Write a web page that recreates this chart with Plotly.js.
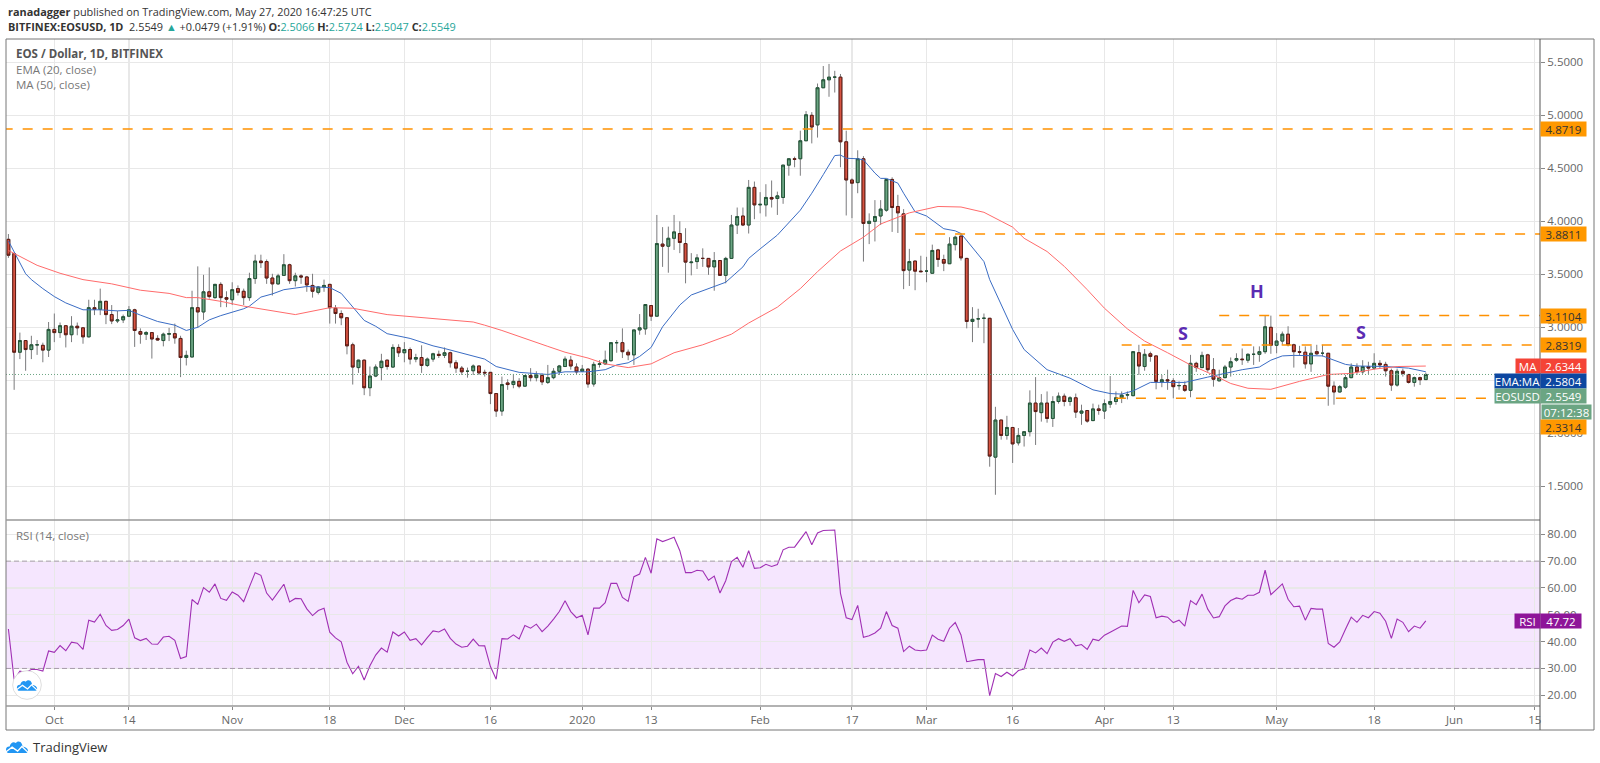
<!DOCTYPE html>
<html>
<head>
<meta charset="utf-8">
<script src="https://cdn.plot.ly/plotly-3.0.1.min.js"></script>
<style>body{margin:0;background:#fff}#plotter{width:1600px;height:763px}</style>
</head>
<body>
<div id="plotter"></div>
<script>
//daily candles, first one is 2019-09-23
const firstDay = '2019-09-23';
const opens = [
3.83,3.695,2.765,2.875,2.79,2.835,2.83,2.785,2.98,2.95,
3.015,2.93,3.01,2.995,2.91,3.185,3.17,3.245,3.12,3.06,
3.07,3.105,3.165,2.96,2.935,2.95,2.895,2.875,2.935,2.94,
2.895,2.715,2.72,3.185,3.145,3.335,3.28,3.405,3.28,3.26,
3.365,3.34,3.28,3.46,3.625,3.62,3.465,3.41,3.49,3.59,
3.44,3.485,3.475,3.395,3.33,3.38,3.405,3.18,3.13,3.09,
2.835,2.62,2.69,2.43,2.54,2.62,2.69,2.625,2.81,2.76,
2.79,2.70,2.715,2.64,2.70,2.745,2.735,2.76,2.665,2.615,
2.585,2.59,2.635,2.575,2.575,2.375,2.21,2.475,2.46,2.49,
2.445,2.545,2.525,2.545,2.48,2.525,2.585,2.63,2.69,2.625,
2.585,2.605,2.465,2.65,2.655,2.685,2.855,2.855,2.765,2.74,
2.975,2.985,3.205,3.105,3.785,3.765,3.84,3.885,3.79,3.61,
3.62,3.65,3.65,3.57,3.63,3.49,3.65,3.965,4.05,3.965,
4.32,4.155,4.155,4.225,4.215,4.225,4.53,4.59,4.59,4.76,
5.0,4.91,5.26,5.335,5.36,5.36,4.75,4.39,4.365,4.59,
3.98,4.0,4.05,4.105,4.395,4.14,4.07,3.54,3.625,3.53,
3.53,3.51,3.73,3.64,3.60,3.78,3.86,3.65,3.055,3.08,
3.085,3.085,1.775,2.125,1.98,2.055,1.91,1.98,2.015,2.285,
2.195,2.285,2.14,2.30,2.35,2.30,2.335,2.19,2.215,2.12,
2.23,2.21,2.275,2.30,2.335,2.36,2.355,2.76,2.63,2.75,
2.73,2.485,2.505,2.495,2.45,2.45,2.405,2.66,2.62,2.74,
2.60,2.495,2.525,2.625,2.69,2.70,2.69,2.745,2.745,2.77,
3.0,2.83,2.87,2.935,2.835,2.77,2.765,2.655,2.77,2.755,
2.755,2.445,2.39,2.435,2.525,2.625,2.58,2.63,2.615,2.66,
2.65,2.59,2.455,2.585,2.555,2.48,2.525,2.5066];
const closes = [
3.68,2.765,2.875,2.79,2.835,2.835,2.785,2.98,2.95,3.015,
2.93,3.01,2.995,2.91,3.185,3.17,3.245,3.12,3.06,3.07,
3.10,3.165,2.97,2.935,2.95,2.89,2.88,2.935,2.94,2.90,
2.715,2.735,3.185,3.145,3.335,3.29,3.405,3.28,3.265,3.355,
3.33,3.28,3.46,3.625,3.61,3.465,3.41,3.485,3.59,3.44,
3.485,3.475,3.40,3.34,3.38,3.395,3.185,3.13,3.09,2.825,
2.625,2.69,2.43,2.54,2.625,2.68,2.63,2.81,2.76,2.79,
2.70,2.715,2.64,2.70,2.75,2.735,2.76,2.665,2.615,2.58,
2.585,2.635,2.57,2.57,2.375,2.21,2.46,2.46,2.49,2.445,
2.545,2.525,2.55,2.485,2.525,2.585,2.635,2.70,2.635,2.58,
2.605,2.465,2.65,2.655,2.69,2.855,2.855,2.77,2.74,2.975,
2.995,3.215,3.105,3.79,3.765,3.84,3.90,3.80,3.615,3.615,
3.655,3.65,3.57,3.63,3.49,3.65,3.965,4.045,3.965,4.32,
4.155,4.16,4.225,4.21,4.24,4.53,4.59,4.585,4.76,5.005,
4.89,5.26,5.335,5.36,5.36,4.75,4.39,4.36,4.59,3.98,
4.0,4.045,4.115,4.395,4.13,4.08,3.535,3.62,3.53,3.525,
3.53,3.725,3.64,3.605,3.785,3.85,3.655,3.055,3.075,3.08,
3.085,1.785,2.125,1.98,2.055,1.90,1.98,2.015,2.285,2.205,
2.285,2.14,2.30,2.35,2.30,2.335,2.20,2.21,2.115,2.23,
2.215,2.28,2.30,2.335,2.36,2.365,2.77,2.635,2.745,2.725,
2.49,2.505,2.495,2.44,2.45,2.405,2.66,2.62,2.735,2.60,
2.51,2.525,2.625,2.675,2.705,2.695,2.745,2.745,2.77,3.005,
2.83,2.87,2.935,2.835,2.77,2.765,2.655,2.755,2.75,2.755,
2.445,2.39,2.44,2.525,2.625,2.58,2.63,2.615,2.66,2.645,
2.59,2.455,2.585,2.565,2.48,2.525,2.505,2.5549];
const highs = [
3.88,3.70,2.95,2.88,2.92,2.88,2.855,3.05,3.13,3.045,
3.02,3.105,3.045,3.0,3.26,3.26,3.365,3.25,3.21,3.155,
3.12,3.20,3.175,2.99,2.965,2.95,2.925,2.95,2.995,3.035,
2.92,2.78,3.345,3.575,3.495,3.565,3.41,3.425,3.34,3.425,
3.395,3.365,3.515,3.685,3.685,3.64,3.505,3.505,3.69,3.60,
3.515,3.50,3.485,3.505,3.39,3.45,3.41,3.21,3.16,3.09,
2.855,2.695,2.695,2.63,2.65,2.75,2.695,2.84,2.84,2.86,
2.81,2.75,2.83,2.715,2.76,2.78,2.81,2.77,2.69,2.635,
2.62,2.65,2.635,2.60,2.575,2.38,2.535,2.51,2.56,2.52,
2.55,2.615,2.585,2.565,2.645,2.615,2.645,2.725,2.73,2.66,
2.645,2.615,2.675,2.69,2.78,2.855,2.88,2.99,2.79,2.975,
3.125,3.215,3.21,4.06,3.945,3.95,4.06,4.0,3.935,3.70,
3.69,3.745,3.65,3.71,3.63,3.665,4.06,4.13,4.13,4.39,
4.375,4.275,4.35,4.385,4.28,4.53,4.595,4.61,4.855,5.04,
5.03,5.30,5.465,5.485,5.42,5.39,4.855,4.405,4.67,4.615,
4.075,4.2,4.2,4.395,4.415,4.25,4.115,3.74,3.625,3.675,
3.665,3.78,3.74,3.685,3.85,3.865,3.89,3.655,3.19,3.175,
3.13,3.085,2.25,2.125,2.165,2.055,2.05,2.015,2.405,2.53,
2.37,2.395,2.35,2.385,2.375,2.35,2.375,2.27,2.22,2.28,
2.27,2.32,2.54,2.395,2.395,2.395,2.775,2.835,2.795,2.77,
2.73,2.55,2.60,2.52,2.49,2.49,2.74,2.675,2.77,2.75,
2.71,2.60,2.645,2.715,2.755,2.80,2.755,2.82,2.82,3.11,
3.11,2.945,2.96,3.01,2.845,2.825,2.82,2.825,2.835,2.835,
2.755,2.49,2.455,2.55,2.66,2.66,2.69,2.675,2.755,2.69,
2.675,2.61,2.61,2.61,2.56,2.535,2.535,2.5724];
const lows = [
3.655,2.41,2.70,2.59,2.70,2.74,2.67,2.72,2.86,2.90,
2.81,2.86,2.925,2.845,2.905,3.115,3.115,3.03,3.03,3.04,
3.04,3.10,2.815,2.845,2.88,2.705,2.875,2.82,2.87,2.845,
2.53,2.64,2.72,2.995,3.07,3.27,3.27,3.19,3.19,3.21,
3.30,3.21,3.25,3.41,3.56,3.41,3.30,3.40,3.49,3.41,
3.385,3.41,3.335,3.28,3.31,3.335,3.035,3.035,3.02,2.745,
2.46,2.57,2.36,2.35,2.53,2.50,2.60,2.62,2.72,2.67,
2.65,2.67,2.57,2.625,2.675,2.71,2.71,2.62,2.57,2.55,
2.525,2.55,2.55,2.535,2.275,2.155,2.165,2.41,2.425,2.425,
2.44,2.49,2.49,2.455,2.465,2.51,2.55,2.63,2.60,2.55,
2.58,2.43,2.44,2.62,2.645,2.675,2.76,2.71,2.69,2.645,
2.93,2.93,3.06,3.105,3.57,3.515,3.73,3.70,3.415,3.49,
3.55,3.57,3.495,3.345,3.485,3.415,3.645,3.88,3.955,3.885,
4.02,4.075,4.045,4.13,4.06,4.165,4.43,4.51,4.43,4.76,
4.735,4.79,5.26,5.175,5.215,4.51,4.055,4.03,4.265,3.62,
3.785,3.81,3.965,4.09,3.90,3.89,3.36,3.39,3.35,3.52,
3.425,3.51,3.57,3.53,3.60,3.725,3.63,2.99,2.86,2.995,
2.85,1.685,1.42,1.94,1.94,1.72,1.885,1.875,1.97,1.89,
2.11,2.10,2.06,2.28,2.255,2.26,2.145,2.08,2.10,2.115,
2.175,2.135,2.24,2.27,2.285,2.32,2.35,2.55,2.59,2.675,
2.415,2.435,2.41,2.33,2.41,2.39,2.34,2.58,2.615,2.58,
2.44,2.49,2.52,2.535,2.675,2.645,2.665,2.645,2.675,2.75,
2.75,2.755,2.835,2.82,2.62,2.73,2.61,2.58,2.74,2.725,
2.26,2.27,2.385,2.42,2.52,2.55,2.56,2.56,2.60,2.615,
2.535,2.40,2.44,2.535,2.47,2.44,2.455,2.5047];

//rsi, one value per candle
const rsiValues = [
44.7,25.7,29,28.6,29.6,29.6,29,36.5,36,38.5,
36.6,39.8,39.4,37.1,48,47.3,50.2,46,44.2,44.5,
46,48.4,41.4,40.4,41.2,39.1,39,41.7,42,40.5,
33.7,34.4,55.7,53.9,60.1,58.4,61.5,56.1,55.4,58.5,
57.3,54.9,60.4,65.7,64.7,58.1,55.5,58.4,61.4,54.8,
56.1,56,52.2,49.7,51.6,52.4,43.5,41.4,39.9,32.3,
28,30.8,25.7,31,35,37.6,36.1,43.6,42.1,43.6,
40.5,41.1,38.8,41.5,44,43.6,44.7,41.2,39.1,37.9,
38.3,40.9,38.5,38.4,30.7,26,41.1,41,42.5,41,
46,45,46.5,43.7,45.8,48.4,51.2,55.2,51.2,48.9,
49.8,42.5,52.5,52.5,54.5,61.7,61.7,56.5,55,64.2,
65.2,71.4,65.5,78.3,77.3,78.1,78.9,73.9,65.7,65.7,
66.6,66.3,62.9,64.4,58.1,62.7,69.8,71.4,67.7,73.9,
67.3,67.5,68.8,68,68.7,74.2,75.2,75.2,77.9,81,
76.1,80.5,81.4,81.6,81.6,58,48.9,48.2,53.5,41.6,
42.2,43.2,45,51.2,46,45,36.3,38.3,36.9,36.6,
36.9,42.4,40.9,40.1,45,47.1,42.5,32.5,32.9,33.3,
33.3,19.9,28.1,27,28.6,27.2,29.2,29.8,36.9,35.8,
37.6,35.5,39.8,41.1,40.1,41.1,38.4,38.9,37.1,40.9,
40.4,42.4,43.5,44.7,45.8,45.7,59.1,54.5,57.4,56.8,
48.9,49.5,49.1,47.1,48,45.8,55.3,53.8,57.7,52.1,
48.8,49.3,53.3,55.3,56.3,55.8,57.3,57.3,58.4,66.6,
57.5,59.5,61.5,55.8,53,53.2,48,52.4,52.1,52.1,
39.3,37.9,39.9,44.6,49.1,47.2,49.8,48.9,51.2,50.6,
47.6,41.2,48.4,47.2,43.7,45.8,45,47.72];

//ema and ma read at the candle numbers where the line bends
const emaIdx = [0,1,2,3,4,6,8,10,13,16,19,21,23,26,29,31,33,35,37,41,42,44,46,48,52,56,58,60,62,64,66,70,74,76,80,83,85,89,94,97,101,104,106,108,110,112,114,117,119,123,125,128,129,131,134,138,140,142,144,145,146,148,149,151,152,153,155,156,158,160,163,165,166,170,171,175,177,181,185,189,192,194,196,199,201,205,209,215,218,220,222,224,229,231,233,235,240,244,247];
const emaVals = [3.815,3.71,3.60,3.505,3.45,3.365,3.29,3.23,3.165,3.165,3.155,3.16,3.115,3.055,3.02,2.97,3.0,3.07,3.11,3.175,3.20,3.285,3.315,3.355,3.385,3.375,3.32,3.19,3.065,3.01,2.94,2.895,2.825,2.80,2.74,2.70,2.63,2.575,2.555,2.58,2.58,2.60,2.645,2.665,2.725,2.81,3.005,3.21,3.305,3.39,3.425,3.57,3.65,3.74,3.87,4.105,4.265,4.44,4.62,4.625,4.595,4.59,4.58,4.455,4.405,4.405,4.36,4.265,4.09,4.05,3.93,3.91,3.885,3.62,3.45,2.98,2.79,2.60,2.52,2.41,2.375,2.37,2.40,2.48,2.48,2.48,2.53,2.60,2.625,2.69,2.73,2.735,2.73,2.69,2.65,2.635,2.63,2.615,2.5804];
const maIdx = [0,2,5,9,13,18,23,28,31,33,37,41,50,56,60,66,68,74,81,83,86,94,97,101,104,108,112,116,121,126,129,134,138,141,145,149,152,157,162,166,170,175,177,181,184,188,191,195,198,202,206,210,213,216,220,225,230,234,238,242,247];
const maVals = [3.725,3.67,3.585,3.51,3.45,3.41,3.35,3.32,3.28,3.28,3.245,3.20,3.12,3.185,3.18,3.12,3.11,3.08,3.05,3.02,2.97,2.82,2.765,2.71,2.655,2.62,2.655,2.76,2.835,2.935,3.04,3.19,3.365,3.525,3.72,3.85,3.975,4.08,4.14,4.135,4.085,3.945,3.84,3.715,3.575,3.355,3.18,2.985,2.87,2.76,2.645,2.55,2.47,2.425,2.415,2.49,2.555,2.565,2.605,2.63,2.6344];

//horizontal levels drawn on the chart
const levelVals = [4.8719,3.8811,3.1104,2.8319,2.3314];
const levelStarts = ['2019-09-22','2020-02-28','2020-04-21','2020-04-04','2020-04-03'];

const tickDates = ['2019-10-01','2019-10-14','2019-11-01','2019-11-18','2019-12-01','2019-12-16','2020-01-01','2020-01-13','2020-02-01','2020-02-17','2020-03-01','2020-03-16','2020-04-01','2020-04-13','2020-05-01','2020-05-18','2020-06-01','2020-06-15'];
const tickLabels = ['Oct','14','Nov','18','Dec','16','2020','13','Feb','17','Mar','16','Apr','13','May','18','Jun','15'];
const priceTicks = [1.5,2,2.5,3,3.5,4,4.5,5,5.5];
const rsiTicks = [20,30,40,50,60,70,80];

const patternLabels = ['S','H','S'];
const patternIdx = [205,218,236];
const patternVals = [2.946,3.343,2.96];

const font = '"Open Sans", sans-serif';
const plotLeft = 6, plotRight = 1540, plotTop = 39, plotBottom = 706, paneSplit = 520;
const rangeStart = '2019-09-22 13:55', rangeEnd = '2020-06-15 21:36';

//pixel position to paper position
function px(x){ return (x - plotLeft) / (plotRight - plotLeft); }
function py(y){ return (plotBottom - y) / (plotBottom - plotTop); }

let dates = [];
let d = new Date(firstDay + 'T00:00:00Z');
for(let i = 0; i < opens.length; i++){
    dates.push(d.toISOString().slice(0, 10));
    d.setUTCDate(d.getUTCDate() + 1);
}

//wicks are grey and the body border is dark, so two candle layers
let wickTrace = {
    type: 'candlestick', x: dates, open: opens, high: highs, low: lows, close: closes,
    xaxis: 'x', yaxis: 'y', whiskerwidth: 0,
    increasing: {line: {color: '#7b7b7d', width: 1}, fillcolor: '#6ba583'},
    decreasing: {line: {color: '#7b7b7d', width: 1}, fillcolor: '#d75442'},
};
let bodyTrace = {
    type: 'candlestick', x: dates, open: opens, close: closes,
    high: opens.map((o, i) => Math.max(o, closes[i])),
    low: opens.map((o, i) => Math.min(o, closes[i])),
    xaxis: 'x', yaxis: 'y', whiskerwidth: 0,
    increasing: {line: {color: '#225437', width: 1}, fillcolor: '#6ba583'},
    decreasing: {line: {color: '#5b1a13', width: 1}, fillcolor: '#d75442'},
};
let emaTrace = {
    type: 'scatter', mode: 'lines', x: emaIdx.map(i => dates[i]), y: emaVals,
    line: {color: '#3a6cc4', width: 1}, xaxis: 'x', yaxis: 'y',
};
let maTrace = {
    type: 'scatter', mode: 'lines', x: maIdx.map(i => dates[i]), y: maVals,
    line: {color: '#ff6b6b', width: 1}, xaxis: 'x', yaxis: 'y',
};
let lastClose = closes[closes.length - 1];
let lastLine = {
    type: 'scatter', mode: 'lines', x: [rangeStart, rangeEnd], y: [lastClose, lastClose],
    line: {color: '#6ba583', width: 1, dash: '1px,2px'}, xaxis: 'x', yaxis: 'y',
};
let levelTraces = levelVals.map((v, i) => ({
    type: 'scatter', mode: 'lines', x: [levelStarts[i], rangeEnd], y: [v, v],
    line: {color: '#ff9100', width: 1.5, dash: '10px,10px'}, xaxis: 'x', yaxis: 'y',
}));
let rsiTrace = {
    type: 'scatter', mode: 'lines', x: dates, y: rsiValues,
    line: {color: '#a030b4', width: 1.1}, xaxis: 'x', yaxis: 'y2',
};

//header and legend text
function text(str, x, y, size, color){
    return {xref: 'paper', yref: 'paper', x: px(x), y: py(y), xanchor: 'left', yanchor: 'middle',
        text: str, showarrow: false, align: 'left', font: {family: font, size: size, color: color}};
}
//coloured tag on the right hand scale
function tag(str, x0, x1, y, bg, color){
    return {xref: 'paper', yref: 'paper', x: px(x0), y: py(y), xanchor: 'left', yanchor: 'middle',
        width: x1 - x0, height: 14, text: str, showarrow: false, align: 'center', bgcolor: bg, borderpad: 0,
        font: {family: font, size: 11.5, color: color}};
}
const teal = '#26a69a';
function val(s){ return '<span style="color:' + teal + '">' + s + '</span>'; }

let annotations = [
    text('<b>ranadagger</b> published on TradingView.com, May 27, 2020 16:47:25 UTC', 6, 11, 10.9, '#333'),
    text('<b>BITFINEX:EOSUSD, 1D</b>  2.5549 ' + val('▲') + ' +0.0479 (+1.91%) <b>O:</b>' + val('2.5066') + ' <b>H:</b>' + val('2.5724') + ' <b>L:</b>' + val('2.5047') + ' <b>C:</b>' + val('2.5549'), 6, 27, 10.9, '#333'),
    text('<b>EOS / Dollar, 1D, BITFINEX</b>', 14, 54, 11.5, '#555'),
    text('EMA (20, close)', 14, 69.5, 11.5, '#777'),
    text('MA (50, close)', 14, 84.5, 11.5, '#777'),
    text('RSI (14, close)', 14, 535, 11.5, '#777'),
    text('TradingView', 31, 747, 13, '#333'),
    tag('4.8719', 1540, 1585, 128.9, '#ff9800', '#333'),
    tag('3.8811', 1540, 1585, 233.9, '#ff9800', '#333'),
    tag('3.1104', 1540, 1585, 315.6, '#ff9800', '#333'),
    tag('2.8319', 1540, 1585, 345, '#ff9800', '#333'),
    tag('MA', 1515, 1539, 366, '#f44336', '#fff'),
    tag('2.6344', 1540, 1585, 366, '#f44336', '#fff'),
    tag('EMA:MA', 1494, 1539, 381, '#0d47a1', '#fff'),
    tag('2.5804', 1540, 1585, 381, '#0d47a1', '#fff'),
    tag('EOSUSD', 1494, 1539, 396, '#6ba583', '#fff'),
    tag('2.5549', 1540, 1585, 396, '#6ba583', '#fff'),
    tag('07:12:38', 1541, 1590, 412, '#6ba583', '#fff'),
    tag('2.3314', 1540, 1585, 427, '#ff9800', '#333'),
    tag('RSI', 1514, 1539, 621, '#8e1599', '#fff'),
    tag('47.72', 1540, 1580, 621, '#8e1599', '#fff'),
];
patternLabels.forEach((s, i) => annotations.push({
    xref: 'x', yref: 'y', x: dates[patternIdx[i]], y: patternVals[i], xshift: -2, text: '<b>' + s + '</b>',
    showarrow: false, font: {family: font, size: 18, color: '#5b2cb3'},
}));

function cloudSvg(withDisc){
    let disc = withDisc ? '<circle cx="16" cy="16" r="15.3" fill="#fff" stroke="#d8d8d8" stroke-width="0.9"/><g transform="translate(5.2,9.5) scale(0.6)">' : '<g>';
    let size = withDisc ? 'width="32" height="32" viewBox="0 0 32 32"' : 'width="36" height="21" viewBox="0 0 36 21"';
    let svg = '<svg xmlns="http://www.w3.org/2000/svg" ' + size + '>' + disc +
        '<path fill="#2196f3" d="M3 21C1 20 0 18 0 15.5C0 12 3 10 6 10.5C7 5 12 2 16 5C18 1.5 24 1 26 6.5C27 9 27 10 27 11C32 11 36 14 36 17.5C36 19.5 35 21 33 21Z"/>' +
        '<path fill="none" stroke="#fff" stroke-width="2.2" d="M0 19L10 11.5L19 18L26 10.5L36 20"/></g></svg>';
    return 'data:image/svg+xml;base64,' + btoa(svg);
}

let layout = {
    width: 1600, height: 763,
    margin: {l: plotLeft, r: 1600 - plotRight, t: plotTop, b: 763 - plotBottom, pad: 0},
    paper_bgcolor: '#fff', plot_bgcolor: '#fff',
    showlegend: false, hovermode: false,
    xaxis: {
        type: 'date', range: [rangeStart, rangeEnd], anchor: 'y2',
        tickmode: 'array', tickvals: tickDates, ticktext: tickLabels,
        ticks: 'outside', ticklen: 3, tickcolor: '#888', tickwidth: 1,
        showgrid: true, gridcolor: '#e8e8e8', gridwidth: 1.2, zeroline: false, showline: false,
        rangeslider: {visible: false}, tickfont: {family: font, size: 11.5, color: '#666'},
    },
    yaxis: {
        domain: [py(paneSplit), 1], range: [1.182, 5.72], side: 'right', anchor: 'x',
        tickmode: 'array', tickvals: priceTicks, tickformat: '.4f',
        ticks: 'outside', ticklen: 4, tickcolor: '#888',
        showgrid: true, gridcolor: '#e8e8e8', gridwidth: 1.2, zeroline: false, showline: false,
        tickfont: {family: font, size: 11.5, color: '#666'},
    },
    yaxis2: {
        domain: [0, py(paneSplit)], range: [16, 85.33], side: 'right', anchor: 'x',
        tickmode: 'array', tickvals: rsiTicks, tickformat: '.2f',
        ticks: 'outside', ticklen: 4, tickcolor: '#888',
        showgrid: true, gridcolor: '#e8e8e8', gridwidth: 1.2, zeroline: false, showline: false,
        tickfont: {family: font, size: 11.5, color: '#666'},
    },
    annotations: annotations,
    images: [
        {source: cloudSvg(true), xref: 'paper', yref: 'paper', x: px(12), y: py(670), sizex: 30 / (plotRight - plotLeft), sizey: 30 / (plotBottom - plotTop), xanchor: 'left', yanchor: 'top', sizing: 'stretch'},
        {source: cloudSvg(false), xref: 'paper', yref: 'paper', x: px(6), y: py(740), sizex: 22 / (plotRight - plotLeft), sizey: 13 / (plotBottom - plotTop), xanchor: 'left', yanchor: 'top', sizing: 'stretch'},
    ],
    shapes: [
        //rsi band and its dashed limits
        {type: 'rect', xref: 'paper', yref: 'y2', x0: 0, x1: 1, y0: 30, y1: 70, fillcolor: 'rgba(155,5,245,0.1)', line: {width: 0}, layer: 'below'},
        {type: 'line', xref: 'paper', yref: 'y2', x0: 0, x1: 1, y0: 70, y1: 70, line: {color: '#a79bab', width: 1, dash: '5px,3px'}},
        {type: 'line', xref: 'paper', yref: 'y2', x0: 0, x1: 1, y0: 30, y1: 30, line: {color: '#a79bab', width: 1, dash: '5px,3px'}},
        //frame, pane divider, scale line
        {type: 'rect', xref: 'paper', yref: 'paper', x0: px(6), x1: px(1594), y0: py(39), y1: py(730), line: {color: '#777', width: 1}},
        {type: 'line', xref: 'paper', yref: 'paper', x0: px(6), x1: px(1540), y0: py(paneSplit), y1: py(paneSplit), line: {color: '#999', width: 1.5}},
        {type: 'line', xref: 'paper', yref: 'paper', x0: px(6), x1: px(1540), y0: py(706), y1: py(706), line: {color: '#999', width: 1.5}},
        {type: 'line', xref: 'paper', yref: 'paper', x0: px(1540), x1: px(1540), y0: py(39), y1: py(730), line: {color: '#555', width: 1}},
    ],
};

let traces = [wickTrace, bodyTrace, emaTrace, maTrace, lastLine].concat(levelTraces, [rsiTrace]);
Plotly.newPlot('plotter', traces, layout, {displayModeBar: false, staticPlot: true});
</script>
</body>
</html>
